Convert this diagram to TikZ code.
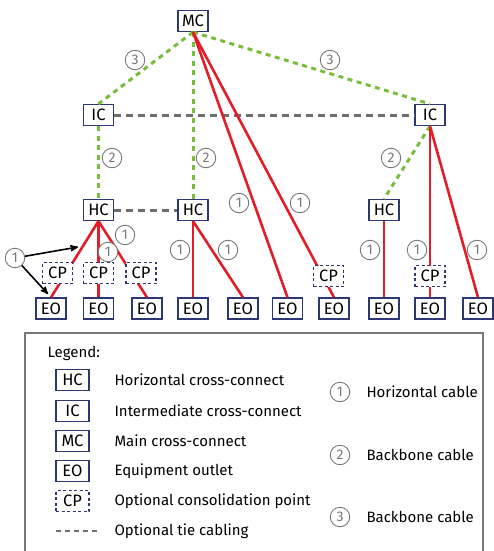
\documentclass[tikz,border=0pt]{standalone}
\usepackage{fontspec}
\setmainfont{Fira Sans}
\usetikzlibrary{arrows}

\definecolor{boxblue}{RGB}{45,55,115}
\definecolor{cablered}{RGB}{225,30,40}
\definecolor{bbgreen}{RGB}{120,190,60}
\definecolor{tiegray}{RGB}{110,110,110}
\definecolor{numgray}{RGB}{120,120,120}

\begin{document}
\begin{tikzpicture}[x=1pt,y=-1pt,>=stealth',
                    font=\fontsize{15}{18}\selectfont]
  \tikzstyle{xc}=[draw=boxblue,line width=1.2pt,fill=white,minimum width=30pt,
                  minimum height=21pt,inner sep=1pt,font=\fontsize{16.5}{18}\selectfont]
  \tikzstyle{cp}=[xc,dashed,dash pattern=on 3pt off 2.5pt]
  \tikzstyle{num}=[circle,draw=numgray,text=numgray,line width=0.9pt,
                   minimum size=19.5pt,inner sep=0pt,fill=white,
                   font=\fontsize{14}{16}\selectfont]
  \tikzstyle{horiz}=[cablered,line width=2.6pt]
  \tikzstyle{backbone}=[bbgreen,line width=3pt,dash pattern=on 5pt off 4.5pt]
  \tikzstyle{tie}=[tiegray,line width=3pt,dash pattern=on 7pt off 5pt]

  \useasboundingbox (0,0) rectangle (493,551);

  % cross-connects
  \node[xc] (MC)  at (193,21)   {MC};
  \node[xc] (IC1) at (98.5,115) {IC};
  \node[xc] (IC2) at (430,115)  {IC};
  \node[xc] (HC1) at (98.5,210) {HC};
  \node[xc] (HC2) at (193,210)  {HC};
  \node[xc] (HC3) at (384,210)  {HC};

  % equipment outlets
  \foreach \n/\x in {1/51,2/98.5,3/147,4/193,5/243,6/287.5,7/334,8/384,9/430,10/478}
    \node[xc] (EO\n) at (\x,308.5) {EO};

  % tie cabling
  \draw[tie] (IC1) -- (IC2);
  \draw[tie] (HC1) -- (HC2);

  % backbone cabling
  \draw[backbone] (MC.south) -- (IC1.north);
  \draw[backbone] (MC.south) -- (IC2.north);
  \draw[backbone] (MC.south) -- (HC2.north);
  \draw[backbone] (IC1.south) -- (HC1.north);
  \draw[backbone] (IC2.south) -- (HC3.north);

  % horizontal cabling
  \foreach \e in {1,2,3}
    \draw[horiz] (HC1.south) -- (EO\e.north);
  \foreach \e in {4,5}
    \draw[horiz] (HC2.south) -- (EO\e.north);
  \foreach \e in {6,7}
    \draw[horiz] (MC.south) -- (EO\e.north);
  \draw[horiz] (HC3.south) -- (EO8.north);
  \foreach \e in {9,10}
    \draw[horiz] (IC2.south) -- (EO\e.north);

  % consolidation points
  \node[cp] (CP1) at (57.5,273) {CP};
  \node[cp] (CP2) at (98.5,273) {CP};
  \node[cp] (CP3) at (141,273)  {CP};
  \node[cp] (CP4) at (328.5,276) {CP};
  \node[cp] (CP5) at (430,276)  {CP};

  % cable numbers
  \node[num] at (135,60)  {3};
  \node[num] at (330,60)  {3};
  \node[num] at (112,158) {2};
  \node[num] at (206,158) {2};
  \node[num] at (391,158) {2};
  \node[num] at (239,203) {1};
  \node[num] at (300,203) {1};
  \node[num] at (125,235) {1};
  \node[num] at (108,252) {1};
  \node[num] at (180,250) {1};
  \node[num] at (228,250) {1};
  \node[num] at (370,250) {1};
  \node[num] at (417,250) {1};
  \node[num] at (477,250) {1};
  \node[num] (n1) at (15,258) {1};
  \coordinate (tipA) at (78,247);
  \coordinate (tipB) at (48,294);
  \draw[->,line width=1.6pt] (n1) -- (tipA);
  \draw[->,line width=1.6pt] (n1) -- (tipB);

  % legend
  \draw[numgray,line width=1.5pt] (25,553) -- (25,333) -- (483,333) -- (483,553);
  \node[anchor=west] (lgd) at (44,353) {Legend:};
  \node[xc,minimum width=33pt] (lHC) at (72.5,380) {HC};
  \node[xc,minimum width=33pt] (lIC) at (72.5,411) {IC};
  \node[xc,minimum width=33pt] (lMC) at (72.5,441) {MC};
  \node[xc,minimum width=33pt] (lEO) at (72.5,471) {EO};
  \node[cp,minimum width=33pt] (lCP) at (72.5,501) {CP};
  \coordinate (tieA) at (56,531);
  \coordinate (tieB) at (97,531);
  \draw[tie,line width=2.2pt,dash pattern=on 5pt off 4pt] (tieA) -- (tieB);
  \node[anchor=west] at (111,380) {Horizontal cross-connect};
  \node[anchor=west] at (111,411) {Intermediate cross-connect};
  \node[anchor=west] at (111,441) {Main cross-connect};
  \node[anchor=west] at (111,471) {Equipment outlet};
  \node[anchor=west] at (111,501) {Optional consolidation point};
  \node[anchor=west] at (111,531) {Optional tie cabling};
  \node[num] (l1) at (340,392) {1};
  \node[num] (l2) at (340,455) {2};
  \node[num] (l3) at (340,517) {3};
  \node[anchor=west] at (363,392) {Horizontal cable};
  \node[anchor=west] at (363,455) {Backbone cable};
  \node[anchor=west] at (363,517) {Backbone cable};
\end{tikzpicture}
\end{document}
